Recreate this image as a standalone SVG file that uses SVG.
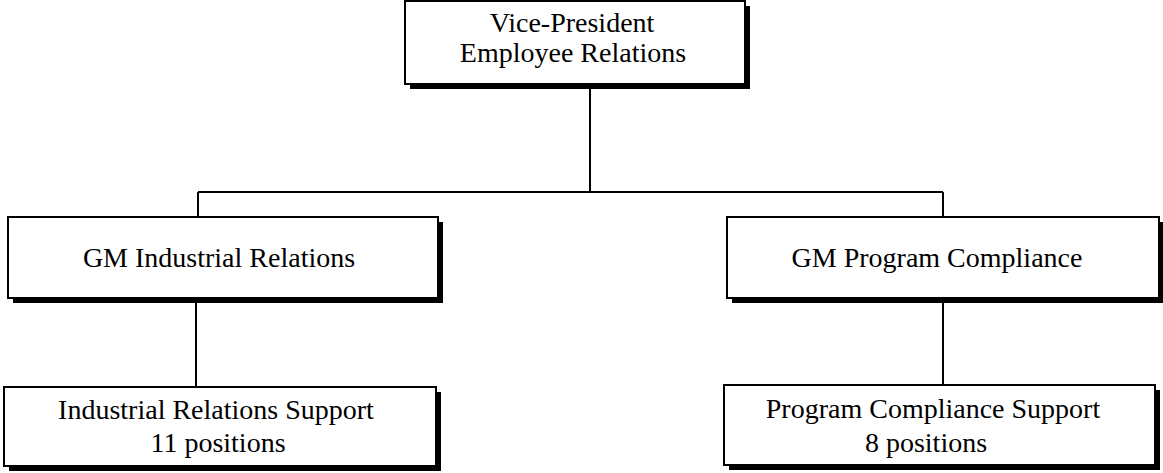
<svg xmlns="http://www.w3.org/2000/svg" width="1163" height="473" viewBox="0 0 1163 473">
<style>
.box{fill:#fff;stroke:#000;stroke-width:2}
.sh{fill:#000}
.t{font-family:"Liberation Serif","Times New Roman",serif;font-size:28px;fill:#000;text-anchor:middle}
.c{stroke:#000;stroke-width:2;fill:none}
</style>
<rect width="1163" height="473" fill="#fff"/>
<g id="connectors">
<line class="c" x1="590" y1="84" x2="590" y2="192"/>
<line class="c" x1="198" y1="192" x2="943" y2="192"/>
<line class="c" x1="198" y1="192" x2="198" y2="217"/>
<line class="c" x1="943" y1="192" x2="943" y2="217"/>
<line class="c" x1="196" y1="298" x2="196" y2="387"/>
<line class="c" x1="943" y1="298" x2="943" y2="385"/>
</g>
<g id="vp">
<rect class="sh" x="410" y="6" width="340" height="83"/>
<rect class="box" x="405" y="1" width="340" height="83"/>
<text class="t" x="572" y="32">Vice-President</text>
<text class="t" x="573" y="62">Employee Relations</text>
</g>
<g id="gm-ir">
<rect class="sh" x="13" y="222" width="430" height="81"/>
<rect class="box" x="8" y="217" width="430" height="81"/>
<text class="t" x="219" y="267">GM Industrial Relations</text>
</g>
<g id="gm-pc">
<rect class="sh" x="732" y="222" width="432" height="81"/>
<rect class="box" x="727" y="217" width="432" height="81"/>
<text class="t" x="937" y="267">GM Program Compliance</text>
</g>
<g id="ir-support">
<rect class="sh" x="9" y="392" width="432" height="79"/>
<rect class="box" x="4" y="387" width="432" height="79"/>
<text class="t" x="216" y="419">Industrial Relations Support</text>
<text class="t" x="218" y="452">11 positions</text>
</g>
<g id="pc-support">
<rect class="sh" x="729" y="390" width="431" height="80"/>
<rect class="box" x="724" y="385" width="431" height="80"/>
<text class="t" x="933" y="418">Program Compliance Support</text>
<text class="t" x="926" y="452">8 positions</text>
</g>
</svg>
